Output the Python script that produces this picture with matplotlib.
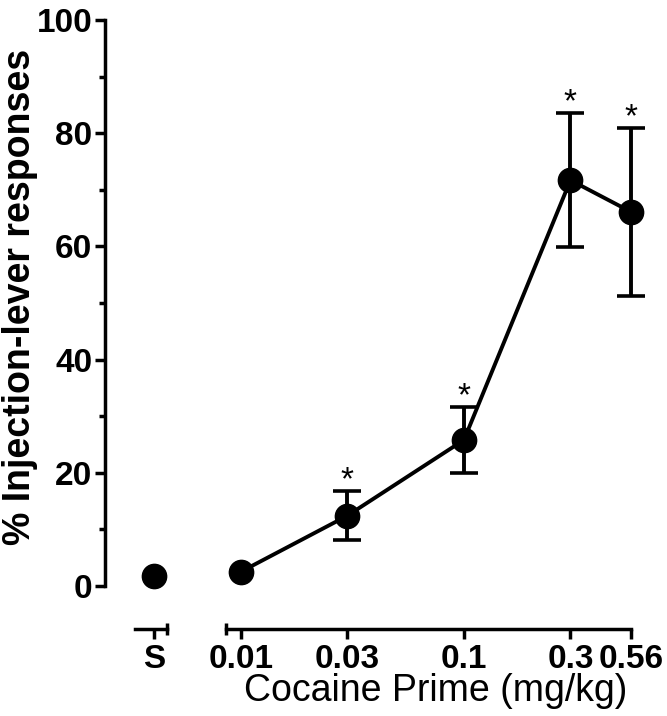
import matplotlib
matplotlib.use("Agg")
import matplotlib.pyplot as plt
import numpy as np

# ---- data ----
saline_label = "S"
saline_value = 1.8
doses = [0.01, 0.03, 0.1, 0.3, 0.56]
dose_labels = ["0.01", "0.03", "0.1", "0.3", "0.56"]
means = [2.5, 12.4, 25.8, 71.7, 66.1]
sems = [0.0, 4.3, 5.8, 11.8, 14.8]
significant = [False, True, True, True, True]
y_ticks = [0, 20, 40, 60, 80, 100]
y_label = "% Injection-lever responses"
x_label = "Cocaine Prime (mg/kg)"

W, H = 667, 716
DPI = 100
plt.rcParams['font.family'] = ['Liberation Sans', 'DejaVu Sans']

fig = plt.figure(figsize=(W / DPI, H / DPI), dpi=DPI)

def px_axes(l, r, t, b):
    return fig.add_axes([l / W, 1 - b / H, (r - l) / W, (b - t) / H])

top_px, bot_px = 20, 586
ax_s = px_axes(105, 203, top_px, bot_px)
ax_m = px_axes(226, 631, top_px, bot_px)

LW = 2.5
tick_fs = 24
black = "black"

for ax in (ax_s, ax_m):
    ax.set_ylim(0, 100)
    ax.patch.set_alpha(0)
    for sp in ("top", "right"):
        ax.spines[sp].set_visible(False)
    ax.spines["bottom"].set_position(("outward", 31))
    ax.spines["bottom"].set_linewidth(LW)
    ax.spines["left"].set_linewidth(LW)

# ---- saline axis ----
ax_s.set_xlim(-1, 1)
ax_s.spines["bottom"].set_bounds(-0.388, 0.265)
ax_s.spines["left"].set_bounds(0, 100)
ax_s.set_xticks([0])
ax_s.set_xticklabels([saline_label], fontsize=tick_fs, fontweight="bold")
ax_s.set_xticks([0.265], minor=True)
ax_s.tick_params(axis="x", which="major", direction="out", length=7, width=LW, pad=4)
ax_s.tick_params(axis="x", which="minor", direction="inout", length=9, width=LW)
ax_s.set_yticks(y_ticks)
ax_s.set_yticklabels([str(v) for v in y_ticks], fontsize=tick_fs, fontweight="bold")
ax_s.set_yticks(np.arange(10, 100, 20), minor=True)
ax_s.tick_params(axis="y", which="major", direction="out", length=7.2, width=LW, pad=2)
ax_s.tick_params(axis="y", which="minor", direction="out", length=4.5, width=LW)
ax_s.plot([0], [saline_value], "o", color=black, ms=17.5, clip_on=False, zorder=5)

# ---- dose axis ----
ax_m.set_xscale("log")
ax_m.set_xlim(0.0086, 0.56)
ax_m.spines["left"].set_visible(False)
ax_m.spines["bottom"].set_bounds(0.0086, 0.56)
ax_m.set_xticks(doses)
ax_m.set_xticklabels(dose_labels, fontsize=tick_fs, fontweight="bold")
ax_m.xaxis.set_minor_locator(matplotlib.ticker.FixedLocator([0.0086]))
ax_m.xaxis.set_minor_formatter(matplotlib.ticker.NullFormatter())
ax_m.tick_params(axis="x", which="major", direction="out", length=7, width=LW, pad=4)
ax_m.tick_params(axis="x", which="minor", direction="inout", length=9, width=LW)
ax_m.set_yticks([])

ax_m.plot(doses, means, "-", color=black, lw=2.8, clip_on=False, zorder=3)
d = np.array(doses); m = np.array(means); e = np.array(sems)
mask = e > 0
ax_m.errorbar(d[mask], m[mask], yerr=e[mask], fmt="none", ecolor=black,
              elinewidth=2.8, capsize=10, capthick=2.6, clip_on=False, zorder=2)
ax_m.plot(doses, means, "o", color=black, ms=17.5, clip_on=False, zorder=5)

for x, y, err, sig in zip(doses, means, sems, significant):
    if sig:
        ax_m.annotate("*", (x, y + err), xytext=(0, 1.5), textcoords="offset points",
                      ha="center", va="baseline", fontsize=24)

fig.text(20 / W, 1 - 297 / H, y_label, rotation=90, ha="center", va="center",
         fontsize=27, fontweight="bold")
fig.text(436 / W, 1 - 701 / H, x_label, ha="center", va="baseline", fontsize=27)

fig.savefig("out.png", dpi=DPI)
